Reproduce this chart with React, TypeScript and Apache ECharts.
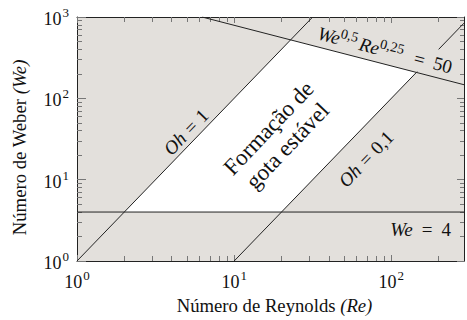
import React, { useEffect, useRef } from "react";
import * as echarts from "echarts";

// Axis extents and tick values
const xRange = [1, 290];
const yRange = [1, 1000];
const xMajorTicks = [1, 10, 100];
const xMinorTicks = [2, 3, 4, 5, 6, 7, 8, 9, 20, 30, 40, 50, 60, 70, 80, 90, 200];
const yMajorTicks = [1, 10, 100, 1000];
const yMinorTicks = [2, 3, 4, 5, 6, 7, 8, 9, 20, 30, 40, 50, 60, 70, 80, 90, 200, 300, 400, 500, 600, 700, 800, 900];

// Boundary lines (Re, We)
const ohOneLine = [[1, 1], [31.6, 1000]];
const ohTenthLineLow = [[10, 1], [146, 213]];
const ohTenthLineHigh = [[200, 400], [290, 841]];
const weFourLine = [[1, 4], [290, 4]];
const weReLine = [[6.25, 1000], [290, 147]];

// Stable drop formation region vertices (Re, We)
const stableRegion = [[2, 4], [20, 4], [144, 208], [22.9, 524]];

const FONT = "'Liberation Serif', 'Times New Roman', serif";
const GRAY = "#e3e0dc";
const f = (size: number, italic = false) => `${italic ? "italic " : ""}${size}px ${FONT}`;

const supLabel = (v: number) => `{b|10}{s|${Math.round(Math.log10(v))}}`;
const labelRich = {
  b: { fontFamily: FONT, fontSize: 18, color: "#111", verticalAlign: "bottom", lineHeight: 22 },
  s: { fontFamily: FONT, fontSize: 13, color: "#111", verticalAlign: "top", lineHeight: 22, padding: [0, 0, 0, 1] },
};

function mkAxis(dim: "x" | "y", position: string, ticks: number[], len: number, showLine: boolean, showLabels: boolean, name?: string) {
  const range = dim === "x" ? xRange : yRange;
  const majors = dim === "x" ? xMajorTicks : yMajorTicks;
  const ax: any = {
    type: "log",
    logBase: 10,
    min: range[0],
    max: range[1],
    position,
    gridIndex: 0,
    axisLine: { show: showLine, lineStyle: { color: "#222", width: 1 } },
    axisTick: { show: true, inside: true, length: len, customValues: ticks, lineStyle: { color: "#777", width: 1 } },
    axisLabel: {
      show: showLabels,
      customValues: majors,
      formatter: (v: number) => supLabel(v),
      rich: labelRich,
      margin: 8,
    },
    splitLine: { show: false },
    minorTick: { show: false },
    minorSplitLine: { show: false },
  };
  if (name) {
    ax.name = name;
    ax.nameLocation = "middle";
    ax.nameGap = dim === "x" ? 35 : 48;
    ax.nameTextStyle = {
      fontFamily: FONT,
      fontSize: 18.7,
      color: "#111",
      padding: dim === "x" ? [0, 0, 0, 8] : [0, 17, 0, 0],
      rich: {
        i: { fontFamily: FONT, fontSize: 18.7, fontStyle: "italic", color: "#111" },
      },
    };
  }
  return ax;
}

const lineSeries = (data: number[][]) => ({
  type: "line",
  data,
  xAxisIndex: 0,
  yAxisIndex: 0,
  symbol: "none",
  lineStyle: { color: "#222", width: 1 },
  z: 3,
  silent: true,
});

const textRich = {
  i: { font: f(19, true), fill: "#111" },
  r: { font: f(19), fill: "#111" },
  e: { font: f(19), fill: "#111", padding: [0, 6, 0, 6] },
  w: { font: f(19), fill: "#111", padding: [0, 9, 0, 9] },
  s: { font: f(14), fill: "#111", verticalAlign: "top", lineHeight: 24, padding: [0, 3, 0, 0] },
};

export default function App() {
  const ref = useRef<HTMLDivElement>(null);
  useEffect(() => {
    if (!ref.current) return;
    const chart = echarts.init(ref.current, null, { renderer: "svg" });
    chart.setOption({
      animation: false,
      backgroundColor: "#fff",
      grid: { left: 77, right: 3, top: 17, bottom: 58, show: true, backgroundColor: GRAY, borderWidth: 0 },
      xAxis: [
        mkAxis("x", "bottom", xMinorTicks, 5, true, true, "Número de Reynolds {i|(Re)}"),
        mkAxis("x", "bottom", xMajorTicks, 6, false, false),
        mkAxis("x", "top", xMinorTicks, 5, true, false),
        mkAxis("x", "top", xMajorTicks, 6, false, false),
      ],
      yAxis: [
        mkAxis("y", "left", yMinorTicks, 5, true, true, "Número de Weber {i|(We)}"),
        mkAxis("y", "left", yMajorTicks, 9, false, false),
        mkAxis("y", "right", yMinorTicks, 4, true, false),
        mkAxis("y", "right", yMajorTicks, 7, false, false),
      ],
      series: [
        {
          type: "custom",
          xAxisIndex: 0,
          yAxisIndex: 0,
          data: stableRegion,
          z: 2,
          silent: true,
          renderItem: (params: any, api: any) => {
            if (params.dataIndex !== 0) return null;
            const pts = stableRegion.map((p) => api.coord(p));
            return { type: "polygon", shape: { points: pts }, style: { fill: "#ffffff", stroke: "none" } };
          },
        },
        lineSeries(ohOneLine),
        lineSeries(ohTenthLineLow),
        lineSeries(ohTenthLineHigh),
        lineSeries(weFourLine),
        lineSeries(weReLine),
      ],
      graphic: [
        {
          type: "text",
          x: 186,
          y: 132,
          rotation: 0.804,
          z: 10,
          style: { text: "{i|Oh}{e|=}{r|1}", rich: textRich, font: f(19), align: "center", verticalAlign: "middle" },
        },
        {
          type: "text",
          x: 366,
          y: 159,
          rotation: 0.804,
          z: 10,
          style: { text: "{i|Oh}{e|=}{r|0,1}", rich: textRich, font: f(19), align: "center", verticalAlign: "middle" },
        },
        {
          type: "text",
          x: 451,
          y: 229,
          z: 10,
          style: { text: "{i|We}{w|=}{r|4}", rich: textRich, font: f(19), align: "right", verticalAlign: "middle" },
        },
        {
          type: "text",
          x: 385,
          y: 50,
          rotation: -0.254,
          z: 10,
          style: {
            text: "{i|We}{s|0,5}{i|Re}{s|0,25}{w|=}{r|50}",
            rich: textRich,
            font: f(19),
            align: "center",
            verticalAlign: "middle",
          },
        },
        {
          type: "text",
          x: 278,
          y: 137,
          rotation: 0.81,
          z: 10,
          style: {
            text: "Formação de\ngota estável",
            font: f(23),
            lineHeight: 26,
            fill: "#111",
            align: "center",
            verticalAlign: "middle",
          },
        },
      ],
    });
    return () => chart.dispose();
  }, []);
  return (
    <div
      ref={ref}
      style={{ position: "fixed", left: 0, top: 0, width: 467, height: 320, background: "#fff" }}
    />
  );
}
